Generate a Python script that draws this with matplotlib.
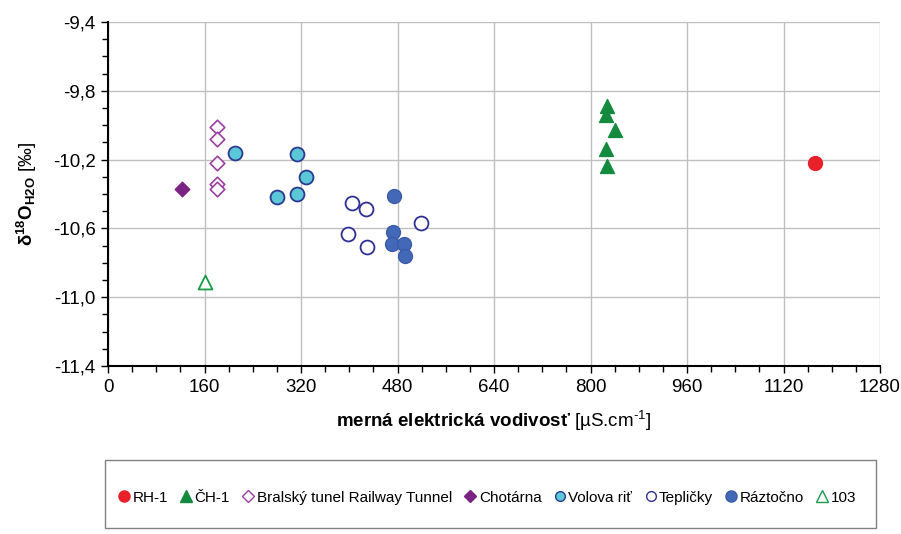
import matplotlib
matplotlib.use('Agg')
import matplotlib.pyplot as plt
from matplotlib.lines import Line2D
from matplotlib.patches import Rectangle
from matplotlib.ticker import MultipleLocator, FixedLocator, FuncFormatter

plt.rcParams['font.family'] = ['Liberation Sans', 'DejaVu Sans']
plt.rcParams['mathtext.fontset'] = 'custom'
plt.rcParams['mathtext.rm'] = 'Liberation Sans'
plt.rcParams['mathtext.bf'] = 'Liberation Sans:bold'
plt.rcParams['mathtext.it'] = 'Liberation Sans:italic'

# data (conductivity, d18O)
rh1_x = [1172]
rh1_y = [-10.22]
ch1_x = [828, 825, 841, 825, 827]
ch1_y = [-9.89, -9.94, -10.03, -10.14, -10.24]
bral_x = [180, 180, 180, 180, 180]
bral_y = [-10.01, -10.08, -10.22, -10.34, -10.37]
chot_x = [122]
chot_y = [-10.37]
volova_x = [210, 313, 329, 280, 313]
volova_y = [-10.16, -10.17, -10.30, -10.415, -10.40]
tepl_x = [404, 427, 519, 398, 429]
tepl_y = [-10.45, -10.485, -10.57, -10.63, -10.71]
razt_x = [474, 472, 471, 491, 492]
razt_y = [-10.41, -10.62, -10.69, -10.69, -10.76]
p103_x = [161]
p103_y = [-10.91]

y_ticks = [-11.4, -11.0, -10.6, -10.2, -9.8, -9.4]
x_ticks = [0, 160, 320, 480, 640, 800, 960, 1120, 1280]

fig = plt.figure(figsize=(9.01, 5.34), dpi=100)
ax = fig.add_axes([0.1199, 0.3146, 0.8568, 0.6442])

ms = 100
ax.scatter(rh1_x, rh1_y, s=ms, marker='o', color='#E8202A', zorder=3)
ax.scatter(ch1_x, ch1_y, s=ms, marker='^', color='#138A3E', zorder=3)
ax.scatter(bral_x, bral_y, s=55, marker='D', facecolor='white', edgecolor='#9B3FA0', linewidth=1.2, zorder=3)
ax.scatter(chot_x, chot_y, s=55, marker='D', color='#7B2383', zorder=3)
ax.scatter(volova_x, volova_y, s=ms, marker='o', facecolor='#5BC8D8', edgecolor='#2B3990', linewidth=1.3, zorder=3)
ax.scatter(tepl_x, tepl_y, s=ms, marker='o', facecolor='white', edgecolor='#2E3192', linewidth=1.3, zorder=3)
ax.scatter(razt_x, razt_y, s=ms, marker='o', facecolor='#4468B8', edgecolor='#3B5BA8', linewidth=1.0, zorder=3)
ax.scatter(p103_x, p103_y, s=ms, marker='^', facecolor='white', edgecolor='#1A9A48', linewidth=1.3, zorder=3)

ax.set_xlim(0, 1280)
ax.set_ylim(-11.4, -9.4)
ax.xaxis.set_major_locator(FixedLocator(x_ticks))
ax.xaxis.set_minor_locator(MultipleLocator(40))
ax.yaxis.set_major_locator(FixedLocator(y_ticks))
ax.yaxis.set_minor_locator(MultipleLocator(0.1))
ax.yaxis.set_major_formatter(FuncFormatter(lambda v, p: ('%.1f' % v).replace('.', ',')))
ax.grid(True, which='major', color='#C0C0C0', linewidth=1.0, zorder=0)
ax.set_axisbelow(True)

for s in ['top', 'right']:
    ax.spines[s].set_visible(False)
for s in ['left', 'bottom']:
    ax.spines[s].set_linewidth(1.5)
ax.tick_params(which='major', direction='out', length=5, width=1, labelsize=13.5, pad=4)
ax.tick_params(which='minor', direction='out', length=4, width=1)

ax.set_xlabel(r'$\mathbf{merná\ elektrická\ vodivosť}$ [µS.cm$^{\text{-1}}$]', fontsize=13.5, labelpad=10)
ax.set_ylabel(r'$\mathbf{δ^{18}O_{H2O}}$ [‰]', fontsize=13.5, labelpad=10)

# legend box
fig.patches.append(Rectangle((0.1165, 0.0112), 0.8555, 0.1274, transform=fig.transFigure,
                             facecolor='white', edgecolor='#808080', linewidth=1.0))
handles = [
    Line2D([], [], ls='', marker='o', color='#E8202A', markersize=8),
    Line2D([], [], ls='', marker='^', color='#138A3E', markersize=8),
    Line2D([], [], ls='', marker='D', mfc='white', mec='#9B3FA0', markersize=6),
    Line2D([], [], ls='', marker='D', color='#7B2383', markersize=6),
    Line2D([], [], ls='', marker='o', mfc='#5BC8D8', mec='#2B3990', markersize=7),
    Line2D([], [], ls='', marker='o', mfc='white', mec='#2E3192', markersize=7),
    Line2D([], [], ls='', marker='o', mfc='#4468B8', mec='#3B5BA8', markersize=8),
    Line2D([], [], ls='', marker='^', mfc='white', mec='#1A9A48', markersize=8),
]
labels = ['RH-1', 'ČH-1', 'Bralský tunel Railway Tunnel', 'Chotárna', 'Volova riť',
          'Tepličky', 'Ráztočno', '103']
fig.legend(handles, labels, loc='center left', bbox_to_anchor=(0.125, 0.068), ncol=8,
           frameon=False, fontsize=11, handlelength=0.7, handletextpad=0.2,
           columnspacing=0.85, borderaxespad=0)

fig.savefig('out.png', dpi=100)
